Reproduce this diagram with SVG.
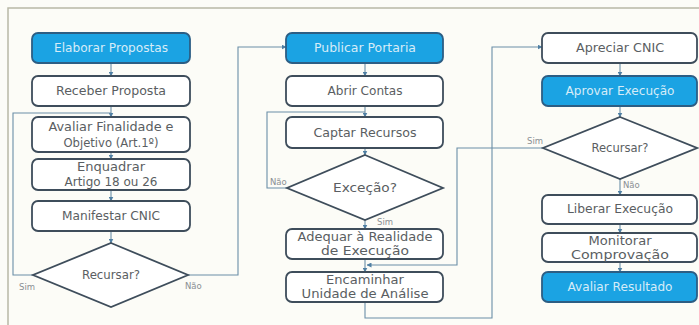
<svg xmlns="http://www.w3.org/2000/svg" width="699" height="325" viewBox="0 0 699 325">
<defs>
<marker id="arr" viewBox="0 0 10 10" refX="9" refY="5" markerWidth="5" markerHeight="5" orient="auto" markerUnits="userSpaceOnUse">
<path d="M0,0 L10,5 L0,10 z" fill="#4f7fa3"/>
</marker>
<style>
.box{fill:#ffffff;stroke:#3e4d5b;stroke-width:1.8}
.blue{fill:#1ba3e3;stroke:#2c5e84;stroke-width:1.8}
.dia{fill:#ffffff;stroke:#3e4d5b;stroke-width:1.8}
.t{font-family:"DejaVu Sans",sans-serif;font-size:12px;fill:#5a5e62;text-anchor:middle}
.tb{font-family:"DejaVu Sans",sans-serif;font-size:12px;fill:#d6ecf8;text-anchor:middle}
.lbl{font-family:"DejaVu Sans",sans-serif;font-size:8.5px;fill:#8a8f93}
.c{fill:none;stroke:#6a8ea8;stroke-width:1.1}
</style>
</defs>
<rect x="0" y="0" width="699" height="325" fill="#fcfcf7"/>
<path d="M8,325 L8,8 L699,8" fill="none" stroke="#b8b8a6" stroke-width="1.5"/>

<g id="connectors">
<path class="c" d="M111,63 V76" marker-end="url(#arr)"/>
<path class="c" d="M111,106 V117" marker-end="url(#arr)"/>
<path class="c" d="M111,152 V159" marker-end="url(#arr)"/>
<path class="c" d="M111,190 V201" marker-end="url(#arr)"/>
<path class="c" d="M111,231 V243" marker-end="url(#arr)"/>
<path class="c" d="M33,275 H13 V113 H111"/>
<path class="c" d="M188,275 H238 V47 H286" marker-end="url(#arr)"/>

<path class="c" d="M365,63 V76" marker-end="url(#arr)"/>
<path class="c" d="M365,106 V117" marker-end="url(#arr)"/>
<path class="c" d="M365,148 V155" marker-end="url(#arr)"/>
<path class="c" d="M365,220 V229" marker-end="url(#arr)"/>
<path class="c" d="M365,259 V272" marker-end="url(#arr)"/>
<path class="c" d="M287,188 H267 V112 H365"/>
<path class="c" d="M543,148 H457 V265 H367" marker-end="url(#arr)"/>
<path class="c" d="M365,302 V318 H492 V47 H542" marker-end="url(#arr)"/>

<path class="c" d="M620,63 V76" marker-end="url(#arr)"/>
<path class="c" d="M620,106 V117" marker-end="url(#arr)"/>
<path class="c" d="M620,179 V195" marker-end="url(#arr)"/>
<path class="c" d="M620,224 V233" marker-end="url(#arr)"/>
<path class="c" d="M620,262 V272" marker-end="url(#arr)"/>

<text class="lbl" x="19" y="290">Sim</text>
<text class="lbl" x="185" y="289">Não</text>
<text class="lbl" x="270" y="185">Não</text>
<text class="lbl" x="377" y="225">Sim</text>
<text class="lbl" x="527" y="144">Sim</text>
<text class="lbl" x="623" y="188">Não</text>
</g>

<g id="elaborar"><rect class="blue" x="32" y="33" width="158" height="30" rx="6"/><text class="tb" x="111" y="52" textLength="114" lengthAdjust="spacingAndGlyphs">Elaborar Propostas</text></g>
<g id="receber"><rect class="box" x="32" y="76" width="158" height="30" rx="6"/><text class="t" x="111" y="95" textLength="110" lengthAdjust="spacingAndGlyphs">Receber Proposta</text></g>
<g id="avaliar"><rect class="box" x="32" y="117" width="158" height="35" rx="6"/><text class="t" x="111" y="131" textLength="125" lengthAdjust="spacingAndGlyphs">Avaliar Finalidade e</text><text class="t" x="111" y="147" textLength="95" lengthAdjust="spacingAndGlyphs">Objetivo (Art.1º)</text></g>
<g id="enquadrar"><rect class="box" x="32" y="159" width="158" height="31" rx="6"/><text class="t" x="111" y="171" textLength="68" lengthAdjust="spacingAndGlyphs">Enquadrar</text><text class="t" x="111" y="186" textLength="93" lengthAdjust="spacingAndGlyphs">Artigo 18 ou 26</text></g>
<g id="manifestar"><rect class="box" x="32" y="201" width="158" height="30" rx="6"/><text class="t" x="111" y="220" textLength="98" lengthAdjust="spacingAndGlyphs">Manifestar CNIC</text></g>
<g id="recursar1"><polygon class="dia" points="111,243 188,275 111,307 33,275"/><text class="t" x="111" y="279" textLength="58" lengthAdjust="spacingAndGlyphs">Recursar?</text></g>

<g id="publicar"><rect class="blue" x="286" y="33" width="157" height="30" rx="6"/><text class="tb" x="365" y="52" textLength="102" lengthAdjust="spacingAndGlyphs">Publicar Portaria</text></g>
<g id="abrir"><rect class="box" x="286" y="76" width="157" height="30" rx="6"/><text class="t" x="365" y="95" textLength="75" lengthAdjust="spacingAndGlyphs">Abrir Contas</text></g>
<g id="captar"><rect class="box" x="286" y="117" width="157" height="31" rx="6"/><text class="t" x="365" y="137" textLength="103" lengthAdjust="spacingAndGlyphs">Captar Recursos</text></g>
<g id="excecao"><polygon class="dia" points="365,155 443,188 365,220 287,188"/><text class="t" x="365" y="192" textLength="64" lengthAdjust="spacingAndGlyphs">Exceção?</text></g>
<g id="adequar"><rect class="box" x="286" y="229" width="157" height="30" rx="6"/><text class="t" x="365" y="241" textLength="135" lengthAdjust="spacingAndGlyphs">Adequar à Realidade</text><text class="t" x="365" y="255" textLength="88" lengthAdjust="spacingAndGlyphs">de Execução</text></g>
<g id="encaminhar"><rect class="box" x="286" y="272" width="157" height="30" rx="6"/><text class="t" x="365" y="284" textLength="78" lengthAdjust="spacingAndGlyphs">Encaminhar</text><text class="t" x="365" y="298" textLength="127" lengthAdjust="spacingAndGlyphs">Unidade de Análise</text></g>

<g id="apreciar"><rect class="box" x="542" y="33" width="155" height="30" rx="6"/><text class="t" x="620" y="52" textLength="88" lengthAdjust="spacingAndGlyphs">Apreciar CNIC</text></g>
<g id="aprovar"><rect class="blue" x="542" y="76" width="155" height="30" rx="6"/><text class="tb" x="620" y="95" textLength="109" lengthAdjust="spacingAndGlyphs">Aprovar Execução</text></g>
<g id="recursar2"><polygon class="dia" points="620,117 697,148 620,179 543,148"/><text class="t" x="620" y="152" textLength="57" lengthAdjust="spacingAndGlyphs">Recursar?</text></g>
<g id="liberar"><rect class="box" x="542" y="195" width="155" height="29" rx="6"/><text class="t" x="620" y="213" textLength="106" lengthAdjust="spacingAndGlyphs">Liberar Execução</text></g>
<g id="monitorar"><rect class="box" x="542" y="233" width="155" height="29" rx="6"/><text class="t" x="620" y="245" textLength="63" lengthAdjust="spacingAndGlyphs">Monitorar</text><text class="t" x="620" y="259" textLength="98" lengthAdjust="spacingAndGlyphs">Comprovação</text></g>
<g id="avaliarres"><rect class="blue" x="542" y="272" width="155" height="30" rx="6"/><text class="tb" x="620" y="291" textLength="105" lengthAdjust="spacingAndGlyphs">Avaliar Resultado</text></g>
</svg>
